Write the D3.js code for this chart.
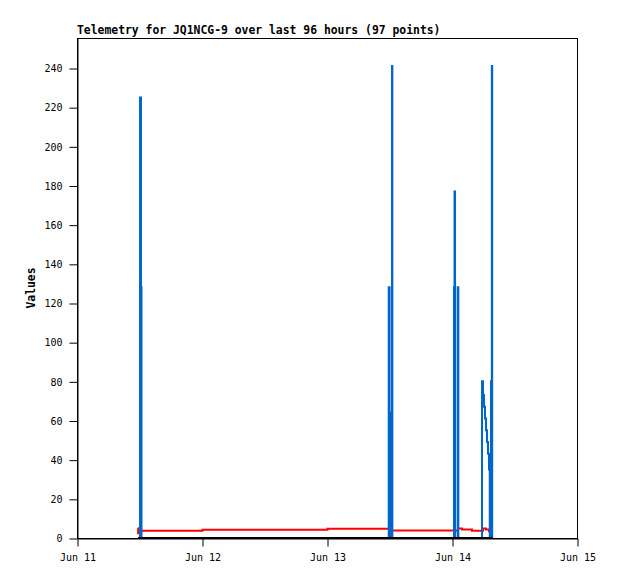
<!DOCTYPE html>
<html><head><meta charset="utf-8">
<script src="https://cdn.jsdelivr.net/npm/d3@7"></script>
<style>
html,body{margin:0;padding:0;background:#fff;}
svg{display:block;}
</style>
</head><body>
<svg id="chart" width="618" height="579"></svg>
<script>
const title = "Telemetry for JQ1NCG-9 over last 96 hours (97 points)";
const yLabel = "Values";
const xTickLabels = ["2024-06-11 00:00","2024-06-12 00:00","2024-06-13 00:00","2024-06-14 00:00","2024-06-15 00:00"];
const yTickValues = [0,20,40,60,80,100,120,140,160,180,200,220,240];

const blueTimes = ["2024-06-11 11:43","2024-06-11 12:06","2024-06-11 12:17","2024-06-11 12:23",
  "2024-06-13 11:51","2024-06-13 12:01","2024-06-13 12:10","2024-06-13 12:29","2024-06-13 12:33",
  "2024-06-14 00:23","2024-06-14 00:29","2024-06-14 00:35","2024-06-14 01:05","2024-06-14 01:13",
  "2024-06-14 05:46","2024-06-14 05:57","2024-06-14 06:09","2024-06-14 06:20","2024-06-14 06:32","2024-06-14 06:43",
  "2024-06-14 06:55","2024-06-14 07:06","2024-06-14 07:15","2024-06-14 07:29","2024-06-14 07:39","2024-06-14 07:43","2024-06-14 07:46"];
const blueValues = [0,225,128,0,
  128,64,0,241,0,
  128,177,0,128,0,
  80,73,67,61,55,49,
  43,35,0,80,241,0,0];

const redTimes = ["2024-06-11 11:40","2024-06-11 11:44","2024-06-11 11:47","2024-06-12 00:05",
  "2024-06-13 00:05","2024-06-13 12:06",
  "2024-06-14 01:09","2024-06-14 01:55","2024-06-14 03:50",
  "2024-06-14 05:57","2024-06-14 06:32","2024-06-14 07:06","2024-06-14 07:18"];
const redValues = [5.0,2.4,3.7,4.2,
  4.75,3.8,
  4.9,4.3,3.7,
  4.8,4.3,3.4,3.4];

const blackTimes = ["2024-06-11 11:43","2024-06-14 07:46"];
const blackValues = [0,0];

const parse = d3.timeParse("%Y-%m-%d %H:%M");
const svg = d3.select("#chart");
const mLeft = 77, mRight = 577, mTop = 38, mBottom = 538;

const x = d3.scaleTime()
  .domain([parse(xTickLabels[0]), parse(xTickLabels[xTickLabels.length-1])])
  .range([mLeft, mRight]);
const y = d3.scaleLinear().domain([0, 255.32]).range([mBottom, mTop]);

const mono = "'DejaVu Sans Mono', 'Liberation Mono', monospace";

// frame
svg.append("rect").attr("x", mLeft+0.5).attr("y", mTop+0.5)
  .attr("width", mRight-mLeft).attr("height", mBottom-mTop)
  .attr("fill","none").attr("stroke","#000").attr("stroke-width",1);

// x axis
const xAxis = d3.axisBottom(x)
  .tickValues(xTickLabels.map(parse))
  .tickFormat(d3.timeFormat("%b %d"))
  .tickSizeInner(8).tickSizeOuter(0).tickPadding(7);
const gx = svg.append("g").attr("transform",`translate(0.5,${mBottom+0.5})`).call(xAxis);
gx.select(".domain").attr("stroke","#000");
gx.selectAll(".tick line").attr("stroke","#000");
gx.selectAll("text").attr("font-family",mono).attr("font-size","10px").attr("fill","#000");

// y axis
const yAxis = d3.axisLeft(y).tickValues(yTickValues)
  .tickSizeInner(8).tickSizeOuter(0).tickPadding(7);
const gy = svg.append("g").attr("transform",`translate(${mLeft+0.5},0.5)`).call(yAxis);
gy.select(".domain").attr("stroke","#000");
gy.selectAll(".tick line").attr("stroke","#000");
gy.selectAll("text").attr("font-family",mono).attr("font-size","10px").attr("fill","#000");

// series (step lines)
function series(times, values, color) {
  const pts = times.map((t,i)=>[parse(t), values[i]]);
  const line = d3.line().curve(d3.curveStepAfter).x(d=>x(d[0])).y(d=>y(d[1]));
  svg.append("path").datum(pts).attr("d", line)
    .attr("fill","none").attr("stroke",color).attr("stroke-width",2)
    .attr("stroke-linejoin","miter").attr("stroke-linecap","butt");
}
series(redTimes, redValues, "#ff0000");
series(blueTimes, blueValues, "#0066cc");
series(blackTimes, blackValues, "#000000");

// title
svg.append("text").attr("x", mLeft).attr("y", 34)
  .attr("font-family",mono).attr("font-weight","bold").attr("font-size","11.4px")
  .attr("fill","#000").text(title);

// y label
svg.append("text").attr("transform",`translate(35,${(mTop+mBottom)/2}) rotate(-90)`)
  .attr("text-anchor","middle")
  .attr("font-family",mono).attr("font-weight","bold").attr("font-size","11.4px")
  .attr("fill","#000").text(yLabel);
</script>
</body></html>
